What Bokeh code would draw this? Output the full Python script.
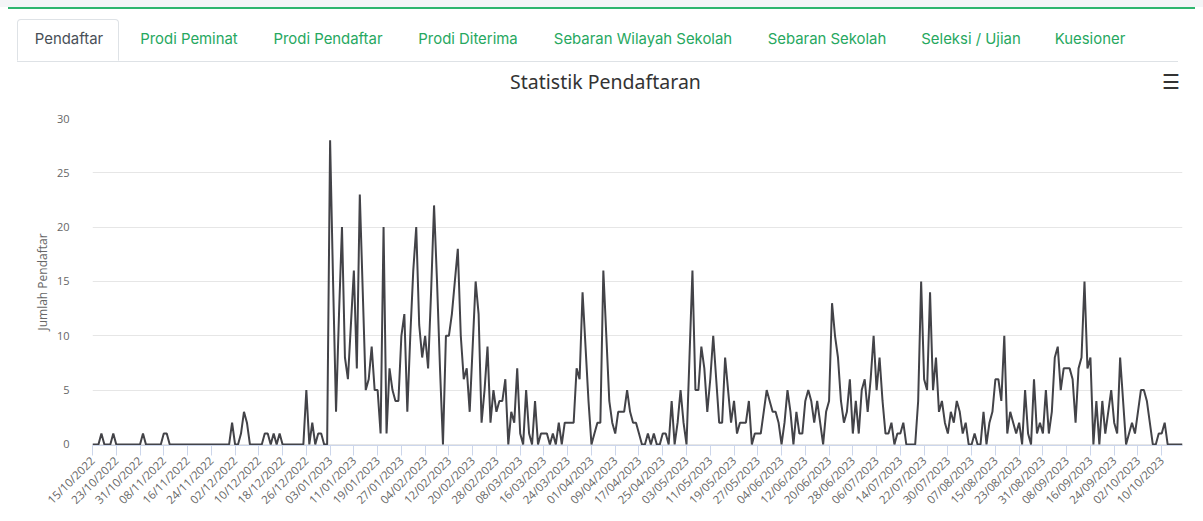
import math
import pandas as pd
from bokeh.plotting import figure
from bokeh.models import Range1d, FixedTicker, LinearAxis, Div
from bokeh.layouts import column
from bokeh.embed import file_html
from bokeh.resources import INLINE

# ---------------- data ----------------
chart_title = "Statistik Pendaftaran"
menu_icon = "\u2630"
y_title = "Jumlah Pendaftar"
start_date = "2022-10-15"
label_every = 8

registrants = [
    0, 0, 0, 1, 0, 0, 0, 1, 0, 0,
    0, 0, 0, 0, 0, 0, 0, 1, 0, 0,
    0, 0, 0, 0, 1, 1, 0, 0, 0, 0,
    0, 0, 0, 0, 0, 0, 0, 0, 0, 0,
    0, 0, 0, 0, 0, 0, 0, 2, 0, 0,
    1, 3, 2, 0, 0, 0, 0, 0, 1, 1,
    0, 1, 0, 1, 0, 0, 0, 0, 0, 0,
    0, 0, 5, 0, 2, 0, 1, 1, 0, 0,
    28, 15, 3, 12, 20, 8, 6, 11, 16, 7,
    23, 14, 5, 6, 9, 5, 5, 1, 20, 1,
    7, 5, 4, 4, 10, 12, 3, 10, 16, 20,
    11, 8, 10, 7, 14, 22, 15, 7, 0, 10,
    10, 12, 15, 18, 10, 6, 7, 3, 9, 15,
    12, 2, 5, 9, 2, 5, 3, 4, 4, 6,
    0, 3, 2, 7, 1, 0, 5, 1, 0, 4,
    0, 1, 1, 1, 0, 1, 0, 2, 0, 2,
    2, 2, 2, 7, 6, 14, 9, 4, 0, 1,
    2, 2, 16, 10, 4, 2, 1, 3, 3, 3,
    5, 3, 2, 2, 1, 0, 0, 1, 0, 1,
    0, 0, 1, 1, 0, 4, 0, 2, 5, 2,
    0, 8, 16, 5, 5, 9, 7, 3, 6, 10,
    6, 2, 2, 8, 5, 2, 4, 1, 2, 2,
    2, 4, 0, 1, 1, 1, 3, 5, 4, 3,
    3, 2, 0, 2, 5, 3, 0, 3, 1, 1,
    4, 5, 4, 2, 4, 2, 0, 3, 4, 13,
    10, 8, 4, 2, 3, 6, 1, 4, 1, 5,
    6, 3, 6, 10, 5, 8, 4, 1, 1, 2,
    0, 1, 1, 2, 0, 0, 0, 0, 4, 15,
    6, 5, 14, 5, 8, 3, 4, 2, 1, 3,
    2, 4, 3, 1, 2, 0, 0, 1, 0, 0,
    3, 0, 2, 3, 6, 6, 4, 10, 1, 3,
    2, 1, 2, 0, 5, 1, 0, 6, 1, 2,
    1, 5, 1, 3, 8, 9, 5, 7, 7, 7,
    6, 2, 7, 8, 15, 7, 8, 0, 4, 0,
    4, 1, 3, 5, 2, 1, 8, 4, 0, 1,
    2, 1, 3, 5, 5, 4, 2, 0, 0, 1,
    1, 2, 0, 0, 0, 0, 0, 0,
]

y_ticks = [0, 5, 10, 15, 20, 25, 30]

tab_names = ["Pendaftar", "Prodi Peminat", "Prodi Pendaftar", "Prodi Diterima",
             "Sebaran Wilayah Sekolah", "Sebaran Sekolah", "Seleksi / Ujian", "Kuesioner"]
active_tab = "Pendaftar"

# categories (one per day)
dates = pd.date_range(start_date, periods=len(registrants), freq="D")
date_labels = [d.strftime("%d/%m/%Y") for d in dates]
day_index = list(range(len(registrants)))

# ---------------- tabs header (page coordinates) ----------------
tab_centers = [69, 189, 328, 468, 643, 827, 971, 1090]
parts = [
    '<div style="position:relative;width:1195px;height:64px;background:#ffffff;'
    'font-family:Inter,sans-serif;font-size:14.9px;">',
    '<div style="position:absolute;left:0px;top:0px;width:1203px;height:7px;background:#f4f5f7;"></div>',
    '<div style="position:absolute;left:8px;top:7px;width:1187px;height:2px;background:#2fb66f;"></div>',
    '<div style="position:absolute;left:17px;top:61px;width:1161px;height:1px;background:#dee2e6;"></div>',
    '<div style="position:absolute;left:17px;top:19px;width:102px;height:42px;border:1px solid #dee2e6;'
    'border-bottom:1px solid #ffffff;border-radius:4px 4px 0 0;background:#ffffff;"></div>',
]
for name, cx in zip(tab_names, tab_centers):
    col = "#495057" if name == active_tab else "#27a85f"
    parts.append(
        f'<span style="position:absolute;left:{cx}px;top:40px;transform:translate(-50%,-50%);'
        f'white-space:nowrap;color:{col};">{name}</span>'
    )
parts.append('</div>')
tabs_div = Div(text="".join(parts), width=1195, height=64, margin=0)

# ---------------- chart ----------------
p = figure(frame_width=1090, frame_height=327, output_backend="svg", toolbar_location=None,
           x_range=Range1d(0, len(registrants) - 1), y_range=Range1d(-0.1, 30),
           min_border_left=92, min_border_right=13, min_border_top=54, min_border_bottom=70,
           margin=0)
p.outline_line_color = None
p.background_fill_color = "#ffffff"
p.border_fill_color = "#ffffff"

p.line(day_index, registrants, line_color="#434348", line_width=2)

x_ticks = list(range(0, len(registrants), label_every))
p.xaxis.ticker = FixedTicker(ticks=x_ticks)
p.xaxis.major_label_overrides = {i: date_labels[i] for i in x_ticks}
p.xaxis.major_label_orientation = math.pi / 4
p.xaxis.axis_line_color = "#ccd6eb"
p.xaxis.major_tick_line_color = "#ccd6eb"
p.xaxis.major_tick_out = 10
p.xaxis.major_tick_in = 0
p.xaxis.minor_tick_line_color = None
p.xaxis.major_label_text_color = "#666666"
p.xaxis.major_label_text_font = "Open Sans"
p.xaxis.major_label_text_font_size = "11.5px"
p.xaxis.major_label_standoff = 3
p.xgrid.grid_line_color = None

p.yaxis.ticker = FixedTicker(ticks=y_ticks)
p.yaxis.axis_line_color = None
p.yaxis.major_tick_line_color = None
p.yaxis.minor_tick_line_color = None
p.yaxis.major_label_standoff = 17
p.yaxis.major_label_text_color = "#666666"
p.yaxis.major_label_text_font = "Open Sans"
p.yaxis.major_label_text_font_size = "11px"
p.yaxis.axis_label = y_title
p.yaxis.axis_label_text_font = "Open Sans"
p.yaxis.axis_label_text_font_size = "12px"
p.yaxis.axis_label_text_font_style = "normal"
p.yaxis.axis_label_text_color = "#666666"
p.yaxis.axis_label_standoff = 3
p.ygrid.ticker = FixedTicker(ticks=y_ticks)
p.ygrid.grid_line_color = "#e6e6e6"

# header row above the plot area: chart title (centred on the chart box) and export-menu icon,
# placed on a pixel-scaled helper axis
p.extra_x_ranges = {"header": Range1d(0, 1090)}
header_pos = {513: chart_title, 1078: menu_icon}
header_axis = LinearAxis(x_range_name="header", ticker=FixedTicker(ticks=list(header_pos)),
                         major_label_overrides=header_pos)
header_axis.axis_line_color = None
header_axis.major_tick_line_color = None
header_axis.minor_tick_line_color = None
header_axis.major_tick_in = 0
header_axis.major_tick_out = 0
header_axis.major_label_standoff = 24
header_axis.major_label_text_font = "Noto Sans"
header_axis.major_label_text_font_size = "19.5px"
header_axis.major_label_text_color = "#333333"
p.add_layout(header_axis, "above")

layout = column(tabs_div, p, spacing=0)
open("out.html", "w").write(file_html(layout, INLINE))
